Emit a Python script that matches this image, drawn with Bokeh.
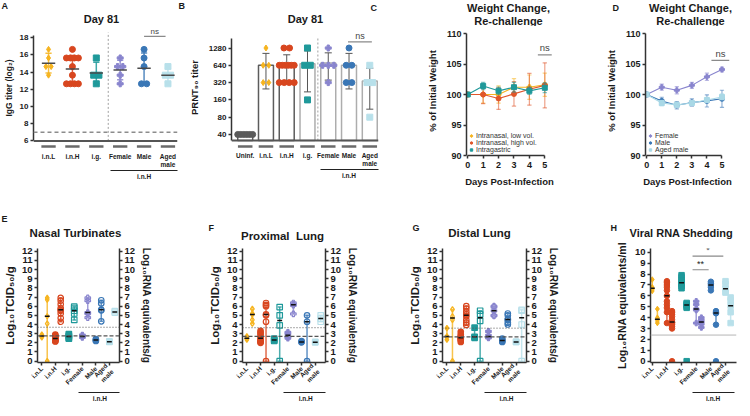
import math
import numpy as np
from bokeh.plotting import figure
from bokeh.layouts import row, column
from bokeh.models import Range1d, LinearAxis, FixedTicker, Span, Legend, LegendItem
from bokeh.core.properties import value
from bokeh.embed import file_html
from bokeh.resources import INLINE

FONT = "Liberation Sans"
NB = "\u00a0"

# ---------------- shared categories ----------------
groups6 = ["i.n.L", "i.n.H", "i.g.", "Female", "Male", "Aged male"]
tick_labels6 = ["i.n.L", "i.n.H", "i.g.", "Female", "Male", "Aged\nmale"]
colors6 = ["#F6B41F", "#D8461F", "#1F999A", "#8985CE", "#3A77B6", "#B8E0EA"]
markers6 = ["diamond", "circle", "square", "plus", "circle", "square"]

# ---------------- A: IgG titer (log2), day 81 ----------------
A_inl = [16.64, 15.64, 14.64, 14.64, 13.64]
A_inh = [16.64, 15.64, 15.64, 15.64, 15.64, 14.64, 13.64, 12.64, 12.64, 12.64, 12.64]
A_ig = [15.64, 13.64, 13.64, 12.64]
A_fem = [15.64, 14.64, 14.64, 13.64, 12.64]
A_male = [16.64, 15.64, 14.64, 12.64, 12.64]
A_aged = [14.64, 13.64, 13.64, 12.64]
A_lod = 7.0
A_ticks = [6, 8, 10, 12, 14, 16, 18]

# ---------------- B: PRNT90 titer, day 81 ----------------
B_tick_labels = ["Uninf.", "i.n.L", "i.n.H", "i.g.", "Female", "Male", "Aged\nmale"]
B_uninf = [40, 40, 40, 40, 40, 40]
B_inl = [1280, 640, 640, 320, 320]
B_inh = [1280, 1280, 640, 640, 640, 640, 640, 640, 320, 320, 320, 320]
B_ig = [1280, 640, 640, 160]
B_fem = [1280, 640, 640, 640, 320]
B_male = [1280, 640, 640, 320, 320]
B_aged = [640, 320, 320, 80]
B_ticks = [40, 80, 160, 320, 640, 1280]
B_colors = ["#5a5a5a"] + colors6
B_markers = ["circle"] + markers6
B_edges = ["#5c5c5c", "#5c5c5c", "#5c5c5c", "#adadad", "#adadad", "#adadad", "#adadad"]

# ---------------- C / D: weight change ----------------
days = [0, 1, 2, 3, 4, 5]
C_labels = ["Intranasal, low vol.", "Intranasal, high vol.", "Intragastric"]
C_low_mean = [100.0, 100.0, 100.0, 101.2, 101.2, 101.6]
C_low_sd = [0.0, 1.4, 1.4, 1.4, 2.0, 1.9]
C_high_mean = [100.0, 100.0, 99.35, 100.1, 100.85, 101.5]
C_high_sd = [0.0, 1.5, 1.8, 2.0, 2.6, 3.7]
C_ig_mean = [100.0, 101.4, 100.6, 101.2, 100.6, 101.1]
C_ig_sd = [0.0, 0.6, 0.6, 0.8, 0.6, 0.8]
D_labels = ["Female", "Male", "Aged male"]
D_fem_mean = [100.0, 101.2, 100.7, 101.5, 102.9, 104.1]
D_fem_sd = [0.0, 0.5, 0.6, 0.5, 0.6, 0.4]
D_male_mean = [100.0, 98.95, 98.25, 98.7, 98.95, 99.3]
D_male_sd = [0.0, 0.6, 0.6, 0.6, 1.0, 1.4]
D_aged_mean = [100.0, 98.6, 98.3, 98.6, 99.1, 99.6]
D_aged_sd = [0.0, 0.45, 0.4, 0.4, 0.45, 0.5]
W_ticks = [90, 95, 100, 105, 110]

# ---------------- E: nasal turbinates ----------------
E_tcid = [[2.9, 2.75, 2.6],
          [2.9, 2.8, 2.7, 2.6, 2.5, 2.45, 2.4, 2.3, 2.2, 2.15],
          [2.95, 2.8, 2.7, 2.55, 2.45],
          [2.85, 2.75, 2.65, 2.6],
          [2.4, 2.3, 2.2],
          [2.15, 2.1]]
E_rna = [[6.9, 6.7, 4.9, 4.1, 0.0],
         [6.9, 6.6, 6.2, 5.8, 5.6, 5.5, 5.2, 4.7, 4.3],
         [5.95, 5.8, 5.5, 5.2, 4.5],
         [6.9, 6.6, 5.3, 5.2, 4.75],
         [6.65, 6.3, 5.6, 5.55, 4.35],
         [5.45, 5.3]]
E_lod_rna, E_lod_tcid = 3.7, 2.75

# ---------------- F: proximal lung ----------------
F_tcid = [[2.7, 2.5, 2.35],
          [3.3, 3.1, 2.9, 2.6, 2.4, 2.2, 2.1, 2.0],
          [2.45, 2.3, 2.2],
          [3.15, 3.0, 2.65, 2.5],
          [2.2, 2.1, 2.05],
          [2.1, 2.05]]
F_rna = [[5.7, 5.2, 5.1, 4.5, 4.1],
         [6.35, 6.15, 6.0, 5.1, 5.0, 4.3, 0.0],
         [5.9, 5.0, 3.9, 0.0],
         [6.35, 6.2, 6.1, 5.15],
         [5.0, 4.3, 0.0],
         [5.0, 4.65, 4.3]]
F_lod_rna, F_lod_tcid = 3.65, 2.7

# ---------------- G: distal lung ----------------
G_tcid = [[3.6, 2.7, 2.35],
          [3.2, 2.9, 2.7, 2.6, 2.5, 2.4, 2.3, 2.1],
          [3.65, 2.65, 2.55],
          [3.25, 2.8, 2.6, 2.55],
          [2.45, 2.3, 2.2, 2.1],
          [2.1, 2.1]]
G_rna = [[5.65, 4.9, 4.5, 0.0],
         [6.0, 5.75, 5.4, 5.1, 4.9, 4.5, 4.2, 3.95],
         [5.5, 5.1, 4.4, 0.0],
         [6.0, 5.9, 5.5, 5.0, 4.95],
         [5.2, 5.0, 4.6, 4.5, 4.2, 4.0],
         [5.6, 5.5, 4.0, 0.0]]
G_lod_rna, G_lod_tcid = 3.6, 2.65
T_ticks = list(range(13))

# ---------------- H: viral RNA shedding ----------------
H_a = [[7.5, 6.8, 6.7, 6.6, 6.45],
       [7.35, 7.2, 7.0, 6.8, 6.5, 6.0, 5.5, 5.2, 4.9, 4.5, 3.5],
       [7.9, 7.7, 7.4, 7.2, 7.1, 6.9, 6.7],
       [5.5, 5.2, 4.8, 4.7, 3.5],
       [7.3, 7.15, 7.0, 6.8, 6.5],
       [7.35, 7.1, 6.65, 6.4, 6.3]]
H_b = [[4.8, 4.0, 3.85, 3.7, 3.5],
       [4.6, 4.45, 4.3, 4.1, 3.8, 3.6, 3.55, 3.5, 3.35, 3.2, 3.0],
       [5.35, 5.25, 5.15, 5.0, 4.9],
       [4.0, 3.8, 3.6, 3.4, 3.1],
       [4.6, 4.45, 4.4, 3.35],
       [5.85, 5.6, 5.1, 4.5, 3.5]]
H_undetected = [[], [0.0], [0.0], [], [0.0], []]
H_lod = 2.4
H_ticks = list(range(11))

# ---------------- panel letters and titles ----------------
top_titles = ["Day 81", "Day 81", "Weight Change,", "Weight Change,"]
top_subtitles = ["", "", "Re-challenge", "Re-challenge"]
bottom_titles = ["Nasal Turbinates", "Proximal" + NB + " Lung", "Distal Lung", "Viral RNA Shedding"]


# ================= helpers =================
def make_fig(g, xr, yr, y_axis_type="linear"):
    p = figure(frame_width=g["fw"], frame_height=g["fh"],
               min_border_left=g["l"], min_border_right=g["r"],
               min_border_top=g["t"], min_border_bottom=g["b"],
               x_range=xr, y_range=yr, y_axis_type=y_axis_type, title=None,
               output_backend="svg", toolbar_location=None)
    p.xgrid.visible = False
    p.ygrid.visible = False
    p.outline_line_color = None
    return p


def make_strip(width, height):
    p = figure(width=width, height=height, x_range=Range1d(0, width),
               y_range=Range1d(height, 0), min_border=0, title=None,
               x_axis_location=None, y_axis_location=None,
               output_backend="svg", toolbar_location=None)
    p.xgrid.visible = False
    p.ygrid.visible = False
    p.outline_line_color = None
    return p


def strip_text(p, xs, ys, texts, size, align):
    p.text(x=xs, y=ys, text=texts, text_font=value(FONT), text_font_size=value(size),
           text_font_style="bold", text_align=align, text_baseline="middle",
           text_color="#1a1a1a")


def style_axis(ax, fs, lfs=None, out=3, standoff=2, lstand=3, ticks=True):
    ax.axis_line_color = "#333333"
    ax.axis_line_width = 1.5
    ax.major_tick_line_color = "#333333" if ticks else None
    ax.major_tick_line_width = 1.5
    ax.major_tick_out = out if ticks else 0
    ax.major_tick_in = 0
    ax.minor_tick_line_color = None
    ax.major_label_text_font = FONT
    ax.major_label_text_font_size = fs
    ax.major_label_text_font_style = "bold"
    ax.major_label_text_color = "#1a1a1a"
    ax.major_label_standoff = standoff
    ax.axis_label_text_font = FONT
    ax.axis_label_text_font_size = lfs or fs
    ax.axis_label_text_font_style = "bold"
    ax.axis_label_text_color = "#1a1a1a"
    ax.axis_label_standoff = lstand


def group_axis(p, lo, hi, center, fs):
    ax = LinearAxis(ticker=FixedTicker(ticks=[center]), bounds=(lo, hi),
                    major_label_overrides={center: "i.n.H"})
    style_axis(ax, fs, out=0, standoff=2, ticks=False)
    ax.axis_line_color = "#222222"
    ax.axis_line_width = 1.2
    p.add_layout(ax, "below")


def errbars(p, xs, lo, hi, color, cap, width=1.2, alpha=1.0):
    xs = np.asarray(xs, float)
    lo = np.asarray(lo, float)
    hi = np.asarray(hi, float)
    kw = dict(line_color=color, line_width=width, line_alpha=alpha)
    p.segment(xs, lo, xs, hi, **kw)
    p.segment(xs - cap, lo, xs + cap, lo, **kw)
    p.segment(xs - cap, hi, xs + cap, hi, **kw)


def swarm(vals, step, span):
    offs = [0.0] * len(vals)
    idx = {}
    for i, v in enumerate(vals):
        idx.setdefault(v, []).append(i)
    for v, ii in idx.items():
        k = len(ii)
        st = step if k < 2 else min(step, span / (k - 1))
        for j, i in enumerate(ii):
            offs[i] = (j - (k - 1) / 2) * st
    return np.array(offs)


def bracket(p, x0, x1, y, ty, text, size="9px", color="#444444", lc="#8a8a8a"):
    p.segment([x0], [y], [x1], [y], line_color=lc, line_width=1.2)
    p.text([(x0 + x1) / 2], [ty], text=[text], text_font=value(FONT),
           text_font_size=value(size), text_align="center", text_baseline="bottom",
           text_color=color)


# ================= title strips =================
s1 = make_strip(734, 26)
strip_text(s1, [1, 178, 370, 612], [5, 5, 7, 7], ["A", "B", "C", "D"], "9px", "left")
strip_text(s1, [101, 305, 508, 690], [18, 18, 7, 7], top_titles, "11px", "center")
strip_text(s1, [508, 690], [20.5, 20.5], top_subtitles[2:], "11px", "center")

s2 = make_strip(734, 52)
strip_text(s2, [1, 208, 412, 610], [28, 37, 37, 37], ["E", "F", "G", "H"], "9px", "left")
strip_text(s2, [75, 282, 479], [42, 45, 42], bottom_titles[:3], "11.5px", "center")
strip_text(s2, [629], [42], bottom_titles[3:], "11px", "left")

# ================= Panel A =================
gA = dict(l=30, fw=144, r=2, t=0, fh=123, b=41)
pA = make_fig(gA, Range1d(-0.63, 5.4), Range1d(5.0, 19.3))
pA.add_layout(Span(location=A_lod, dimension="width", line_color="#8c8c8c",
                   line_width=1.5, line_dash="4 3"))
pA.segment([2.5], [6.0], [2.5], [18.6], line_color="#a0a0a0", line_width=1, line_dash="2 2")
pA.add_layout(Span(location=6, dimension="width", line_color="#555555", line_width=2))
pA.segment(np.arange(6) - 0.3, [5.35] * 6, np.arange(6) + 0.3, [5.35] * 6,
           line_color="#6a6a6a", line_width=2.5)
for i, vals in enumerate([A_inl, A_inh, A_ig, A_fem, A_male, A_aged]):
    m, sd = float(np.mean(vals)), float(np.std(vals, ddof=1))
    errbars(pA, [i], [m - sd], [m + sd], colors6[i], 0.13, 1.5, 0.85)
    pA.scatter(i + swarm(vals, 0.22, 0.5), vals, marker=markers6[i], size=6,
               fill_color=colors6[i], line_color=colors6[i])
    pA.segment([i - 0.28], [m], [i + 0.28], [m], line_color="#4a4a4a", line_width=1.5)
bracket(pA, 4.0, 4.9, 18.15, 18.22, "ns", size="8px")
pA.yaxis.ticker = FixedTicker(ticks=A_ticks)
pA.yaxis.bounds = (6, 18.3)
pA.yaxis.axis_label = "IgG titer (log\u2082)"
style_axis(pA.yaxis[0], "8px", "8.5px", out=3, standoff=2, lstand=3)
xa = pA.xaxis[0]
xa.ticker = FixedTicker(ticks=list(range(6)))
xa.major_label_overrides = {i: t for i, t in enumerate(tick_labels6)}
style_axis(xa, "6.5px", out=0, standoff=3, ticks=False)
xa.axis_line_color = None
group_axis(pA, 2.6, 5.4, 4, "6.5px")

# ================= Panel B =================
gB = dict(l=52, fw=147, r=1, t=0, fh=122, b=42)
pB = make_fig(gB, Range1d(-0.66, 6.42), Range1d(22.8, 3030), y_axis_type="log")
B_vals = [B_uninf, B_inl, B_inh, B_ig, B_fem, B_male, B_aged]
B_mean = [float(np.mean(v)) for v in B_vals]
B_sd = [float(np.std(v, ddof=1)) for v in B_vals]
pB.segment([3.5], [31.4], [3.5], [1900], line_color="#a0a0a0", line_width=1, line_dash="2 2")
pB.vbar(x=list(range(7)), top=B_mean, bottom=31.4, width=0.72, fill_color="white",
        line_color=B_edges, line_width=1.5)
for i, vals in enumerate(B_vals):
    errbars(pB, [i], [B_mean[i] - B_sd[i]], [B_mean[i] + B_sd[i]], "#555555", 0.17, 1.0)
    pB.scatter(i + swarm(vals, 0.27, 0.72), vals, marker=B_markers[i], size=6,
               fill_color=B_colors[i], line_color=B_colors[i])
pB.add_layout(Span(location=31.4, dimension="width", line_color="#555555", line_width=2))
pB.segment(np.arange(7) - 0.35, [24.7] * 7, np.arange(7) + 0.35, [24.7] * 7,
           line_color="#6a6a6a", line_width=2.5)
bracket(pB, 4.95, 6.1, 1630, 1700, "ns")
pB.yaxis.ticker = FixedTicker(ticks=B_ticks)
pB.yaxis.major_label_overrides = {t: str(t) for t in B_ticks}
pB.yaxis.bounds = (31.4, 1900)
pB.yaxis.axis_label = "PRNT\u2089\u2080 titer"
style_axis(pB.yaxis[0], "8px", "9.5px", out=3, standoff=2, lstand=6)
xb = pB.xaxis[0]
xb.ticker = FixedTicker(ticks=list(range(7)))
xb.major_label_overrides = {i: t for i, t in enumerate(B_tick_labels)}
style_axis(xb, "6.5px", out=0, standoff=3, ticks=False)
xb.axis_line_color = None
group_axis(pB, 3.65, 6.42, 5, "6.5px")


# ================= Panels C / D =================
def weight_panel(g, series, labels, ns_x0, ns_x1, ns_y):
    p = make_fig(g, Range1d(-0.08, 5.5), Range1d(90, 111.15))
    items = []
    for (mean, sd, color, marker), lab in zip(series, labels):
        mean = np.array(mean)
        sd = np.array(sd)
        errbars(p, days[1:], (mean - sd)[1:], (mean + sd)[1:], color, 0.14, 1.2, 0.55)
        p.line(days, mean, line_color=color, line_width=1.1)
        r = p.scatter(days, mean, marker=marker, size=5, fill_color=color, line_color=color)
        items.append(LegendItem(label=lab, renderers=[r]))
    bracket(p, ns_x0, ns_x1, ns_y, ns_y + 0.25, "ns", size="9.5px")
    leg = Legend(items=items, location="bottom_left", label_text_font=FONT,
                 label_text_font_size="7px", label_text_color="#333333",
                 glyph_width=6, glyph_height=7, label_height=7, spacing=0,
                 padding=1, margin=2, label_standoff=2,
                 border_line_color=None, background_fill_alpha=0)
    p.add_layout(leg)
    p.xaxis.ticker = FixedTicker(ticks=days)
    p.xaxis.bounds = (0, 5)
    p.xaxis.axis_label = "Days Post-Infection"
    style_axis(p.xaxis[0], "9px", "9.5px", out=3, standoff=3, lstand=5)
    p.yaxis.ticker = FixedTicker(ticks=W_ticks)
    p.yaxis.bounds = (90, 110)
    p.yaxis.axis_label = "% of Initial Weight"
    style_axis(p.yaxis[0], "9px", "9.5px", out=3, standoff=2, lstand=5)
    return p


gC = dict(l=87, fw=86, r=3, t=0, fh=129, b=35)
pC = weight_panel(gC, [(C_low_mean, C_low_sd, "#F6B41F", "plus"),
                       (C_high_mean, C_high_sd, "#E0562A", "circle"),
                       (C_ig_mean, C_ig_sd, "#1F999A", "square")],
                  C_labels, 4.55, 5.45, 106.5)
gD = dict(l=90, fw=84, r=8, t=0, fh=129, b=35)
pD = weight_panel(gD, [(D_fem_mean, D_fem_sd, "#8985CE", "plus"),
                       (D_male_mean, D_male_sd, "#3A77B6", "circle"),
                       (D_aged_mean, D_aged_sd, "#A9D8E6", "square")],
                  D_labels, 4.3, 5.5, 105.6)


# ================= Panels E / F / G =================
def tissue_panel(g, tcid, rna, lod_rna, lod_tcid):
    p = make_fig(g, Range1d(-0.32, 5.75), Range1d(-0.15, 12.3))
    p.extra_y_ranges = {"rna": Range1d(-0.15, 12.3)}
    p.add_layout(Span(location=lod_rna, dimension="width", line_color="#555555",
                      line_width=1, line_dash="1 2"))
    p.add_layout(Span(location=lod_tcid, dimension="width", line_color="#555555",
                      line_width=1.3, line_dash="4 2"))
    for i in range(6):
        c, mk = colors6[i], markers6[i]
        for off, vals, filled in ((0.0, tcid[i], True), (0.4, rna[i], False)):
            x = i + off
            med = float(np.median(vals))
            errbars(p, [x], [min(vals)], [max(vals)], c, 0.14, 1.5, 0.8)
            p.scatter([x] * len(vals), vals, marker=mk, size=5.5,
                      fill_color=c if filled else None, line_color=c, line_width=1.2)
            p.segment([x - 0.18], [med], [x + 0.18], [med], line_color="#111111", line_width=1.5)
    p.yaxis.ticker = FixedTicker(ticks=T_ticks)
    p.yaxis.axis_label = "Log\u2081\u2080TCID\u2085\u2080/g"
    style_axis(p.yaxis[0], "9.5px", "11.5px", out=3, standoff=2, lstand=3)
    rax = LinearAxis(y_range_name="rna", ticker=FixedTicker(ticks=T_ticks),
                     axis_label="Log\u2081\u2080RNA equivalents/g")
    style_axis(rax, "9.5px", "10px", out=3, standoff=2, lstand=3)
    p.add_layout(rax, "right")
    xa = p.xaxis[0]
    xa.ticker = FixedTicker(ticks=list(range(6)))
    xa.major_label_overrides = {i: t for i, t in enumerate(tick_labels6)}
    xa.major_label_orientation = math.pi / 4
    style_axis(xa, "6.5px", out=3, standoff=2)
    group_axis(p, 2.7, 5.75, 4.3, "6.5px")
    return p


gE = dict(l=34, fw=82, r=60, t=6, fh=114, b=38)
pE = tissue_panel(gE, E_tcid, E_rna, E_lod_rna, E_lod_tcid)
gF = dict(l=63, fw=83, r=38, t=6, fh=114, b=38)
pF = tissue_panel(gF, F_tcid, F_rna, F_lod_rna, F_lod_tcid)
gG = dict(l=79, fw=84, r=33, t=6, fh=114, b=38)
pG = tissue_panel(gG, G_tcid, G_rna, G_lod_rna, G_lod_tcid)

# ================= Panel H =================
gH = dict(l=88, fw=86, r=4, t=6, fh=114, b=38)
pH = make_fig(gH, Range1d(-0.12, 5.75), Range1d(-0.12, 10.35))
pH.add_layout(Span(location=H_lod, dimension="width", line_color="#b5b5b5", line_width=1))
for i in range(6):
    c, mk = colors6[i], markers6[i]
    for off, vals in ((0.0, H_a[i]), (0.35, H_b[i])):
        x = i + off
        med = float(np.median(vals))
        errbars(pH, [x], [min(vals)], [max(vals)], c, 0.13, 1.5, 0.8)
        pH.scatter([x] * len(vals), vals, marker=mk, size=5.5, fill_color=c,
                   line_color=c, line_width=1)
        pH.segment([x - 0.17], [med], [x + 0.17], [med], line_color="#111111", line_width=1.5)
    if H_undetected[i]:
        pH.scatter([i + 0.35] * len(H_undetected[i]), H_undetected[i], marker=mk, size=5.5,
                   fill_color=c, line_color=c)
bracket(pH, 2.75, 3.85, 8.4, 8.5, "**", size="9px", color="#222222")
bracket(pH, 2.75, 4.85, 9.65, 9.75, "*", size="9px", color="#222222")
pH.yaxis.ticker = FixedTicker(ticks=H_ticks)
pH.yaxis.axis_label = "Log\u2081\u2080RNA equivalents/ml"
style_axis(pH.yaxis[0], "9.5px", "10.5px", out=3, standoff=2, lstand=4)
xh = pH.xaxis[0]
xh.ticker = FixedTicker(ticks=list(range(6)))
xh.major_label_overrides = {i: t for i, t in enumerate(tick_labels6)}
xh.major_label_orientation = math.pi / 4
style_axis(xh, "6.5px", out=3, standoff=2)
group_axis(pH, 2.75, 5.6, 4.15, "6.5px")

layout = column(s1, row(pA, pB, pC, pD), s2, row(pE, pF, pG, pH))
open("out.html", "w").write(file_html(layout, INLINE))
